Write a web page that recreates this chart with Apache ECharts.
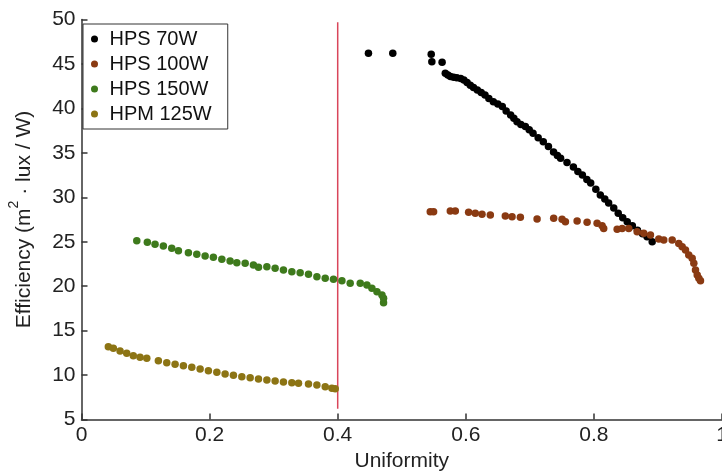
<!DOCTYPE html>
<html>
<head>
<meta charset="utf-8">
<script src="https://cdn.jsdelivr.net/npm/echarts@6/dist/echarts.min.js"></script>
<style>
  html, body { margin: 0; padding: 0; background: #fff; }
  #chart { width: 722px; height: 471px; }
</style>
</head>
<body>
<div id="chart"></div>
<script>
// Lamp efficiency versus illuminance uniformity: [uniformity, efficiency]
const seriesNames = ['HPS 70W', 'HPS 100W', 'HPS 150W', 'HPM 125W'];

const hps70 = [
  [0.448, 46.2], [0.486, 46.2], [0.546, 46.1], [0.547, 45.25], [0.563, 45.2],
  [0.568, 43.95], [0.572, 43.75], [0.576, 43.6], [0.581, 43.5], [0.586, 43.45],
  [0.592, 43.35], [0.597, 43.2], [0.602, 42.9], [0.607, 42.6], [0.612, 42.35],
  [0.618, 42.07], [0.624, 41.8], [0.630, 41.5], [0.636, 41.1], [0.643, 40.75],
  [0.650, 40.5], [0.657, 40.2], [0.663, 39.7], [0.670, 39.25], [0.675, 38.9],
  [0.680, 38.5], [0.686, 38.2], [0.693, 37.95], [0.699, 37.6], [0.705, 37.2],
  [0.713, 36.7], [0.721, 36.25], [0.729, 35.7], [0.737, 35.1], [0.743, 34.7],
  [0.748, 34.4], [0.758, 33.9], [0.768, 33.4], [0.775, 32.9], [0.782, 32.5],
  [0.789, 32.0], [0.795, 31.6], [0.803, 30.9], [0.810, 30.25], [0.817, 29.8],
  [0.823, 29.35], [0.831, 28.8], [0.838, 28.2], [0.845, 27.7], [0.852, 27.25],
  [0.860, 26.8], [0.868, 26.3], [0.876, 25.9], [0.883, 25.55], [0.891, 25.0]
];

const hps100 = [
  [0.5445, 28.38], [0.5497, 28.38], [0.5758, 28.45], [0.5836, 28.45], [0.6044, 28.31],
  [0.6148, 28.2], [0.6253, 28.08], [0.6383, 28.0], [0.6617, 27.9], [0.6722, 27.8],
  [0.6852, 27.75], [0.7113, 27.55], [0.7372, 27.63], [0.7503, 27.52], [0.7555, 27.25],
  [0.7738, 27.33], [0.7894, 27.18], [0.805, 27.07], [0.8128, 26.8], [0.8153, 26.5],
  [0.8363, 26.4], [0.8441, 26.5], [0.8544, 26.5], [0.8675, 26.13], [0.8778, 25.95],
  [0.8883, 25.76], [0.9013, 25.3], [0.9091, 25.2], [0.9222, 25.2], [0.9325, 24.8],
  [0.9378, 24.44], [0.943, 24.07], [0.9481, 23.5], [0.9534, 23.13], [0.956, 22.57],
  [0.9586, 21.82], [0.9613, 21.26], [0.9638, 20.88], [0.9664, 20.6]
];

const hps150 = [
  [0.0863, 25.11], [0.1028, 24.93], [0.1148, 24.71], [0.1278, 24.52], [0.1409, 24.26],
  [0.1513, 23.99], [0.1669, 23.76], [0.18, 23.58], [0.193, 23.39], [0.2059, 23.25],
  [0.2191, 23.02], [0.232, 22.83], [0.2425, 22.64], [0.2555, 22.57], [0.2684, 22.38],
  [0.2763, 22.12], [0.2894, 22.19], [0.3023, 22.01], [0.3153, 21.82], [0.3284, 21.63],
  [0.3414, 21.51], [0.3544, 21.33], [0.3675, 21.06], [0.3805, 20.88], [0.3934, 20.77],
  [0.4066, 20.61], [0.4195, 20.32], [0.4352, 20.32], [0.4456, 20.13], [0.4534, 19.76],
  [0.4613, 19.38], [0.4691, 19.0], [0.4716, 18.63], [0.4716, 18.14]
];

const hpm125 = [
  [0.0419, 13.19], [0.0497, 13.01], [0.0602, 12.71], [0.0706, 12.45], [0.0809, 12.18],
  [0.0914, 12.0], [0.1019, 11.88], [0.12, 11.61], [0.1331, 11.39], [0.1461, 11.21],
  [0.1591, 11.05], [0.1722, 10.87], [0.1852, 10.68], [0.1981, 10.49], [0.2113, 10.31],
  [0.2242, 10.12], [0.2372, 9.97], [0.2503, 9.82], [0.2633, 9.7], [0.2763, 9.56],
  [0.2894, 9.44], [0.3023, 9.33], [0.3153, 9.22], [0.3284, 9.14], [0.3388, 9.07],
  [0.3544, 8.99], [0.3675, 8.88], [0.3805, 8.69], [0.3909, 8.51], [0.3961, 8.46]
];

// Vertical reference line at uniformity 0.4
const thresholdLine = [[0.4, 6.2], [0.4, 49.7]];

const seriesColors = ['#000000', '#8a3a12', '#3e7a1c', '#8c7414'];
const xTicks = [0, 0.2, 0.4, 0.6, 0.8, 1];

const FONT = '"Liberation Sans", Arial, Helvetica, sans-serif';
const chart = echarts.init(document.getElementById('chart'), null, { renderer: 'canvas' });

const axisLineStyle = { color: '#333', width: 1.5 };

function scatter(name, data, color) {
  return {
    name: name,
    type: 'scatter',
    data: data,
    symbol: 'circle',
    symbolSize: 7.5,
    itemStyle: { color: color, opacity: 1 },
    z: 3
  };
}

chart.setOption({
  animation: false,
  backgroundColor: '#ffffff',
  grid: {
    left: 81.5, right: 0, top: 19.5, bottom: 51.5,
    containLabel: false,
    outerBoundsMode: 'none'
  },
  legend: {
    data: seriesNames,
    orient: 'vertical',
    left: 83,
    top: 24,
    backgroundColor: '#fff',
    borderColor: '#333',
    borderWidth: 1,
    padding: [5, 16, 5, 8],
    itemGap: 5,
    itemWidth: 14,
    itemHeight: 7,
    icon: 'circle',
    textStyle: { fontFamily: FONT, fontSize: 20, color: '#111', padding: [0, 0, 0, 3] }
  },
  xAxis: {
    type: 'value',
    min: 0,
    max: 1,
    interval: 0.2,
    name: 'Uniformity',
    nameLocation: 'middle',
    nameGap: 30,
    nameTextStyle: { fontFamily: FONT, fontSize: 21, color: '#222' },
    axisLine: { show: true, lineStyle: axisLineStyle },
    axisTick: { show: true, inside: true, length: 6, lineStyle: axisLineStyle },
    axisLabel: {
      fontFamily: FONT, fontSize: 21, color: '#222', margin: 5,
      formatter: function (v) {
        const t = xTicks.find(function (k) { return Math.abs(k - v) < 1e-9; });
        return t === undefined ? '' : String(t);
      }
    },
    splitLine: { show: false }
  },
  yAxis: {
    type: 'value',
    min: 5,
    max: 50,
    interval: 5,
    name: '{t|Efficiency (m}{s|2}{t| · lux / W)}',
    nameLocation: 'middle',
    nameGap: 47,
    nameTextStyle: {
      rich: {
        t: { fontFamily: FONT, fontSize: 21, color: '#222', lineHeight: 27, verticalAlign: 'bottom' },
        s: { fontFamily: FONT, fontSize: 14, color: '#222', lineHeight: 27, verticalAlign: 'top' }
      }
    },
    axisLine: { show: true, lineStyle: axisLineStyle },
    axisTick: { show: true, inside: true, length: 6, lineStyle: axisLineStyle },
    axisLabel: { fontFamily: FONT, fontSize: 21, color: '#222', margin: 6 },
    splitLine: { show: false }
  },
  series: [
    scatter(seriesNames[0], hps70, seriesColors[0]),
    scatter(seriesNames[1], hps100, seriesColors[1]),
    scatter(seriesNames[2], hps150, seriesColors[2]),
    scatter(seriesNames[3], hpm125, seriesColors[3]),
    {
      name: 'threshold',
      type: 'line',
      data: thresholdLine,
      symbol: 'none',
      silent: true,
      lineStyle: { color: '#d9465a', width: 1.5 },
      z: 2
    }
  ]
});
</script>
</body>
</html>
